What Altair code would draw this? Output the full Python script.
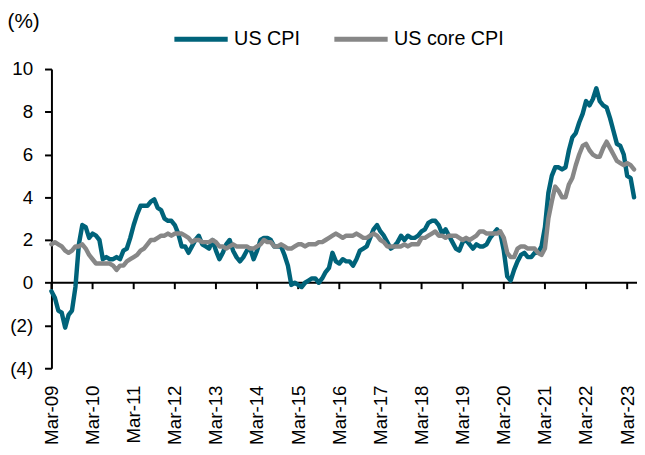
import altair as alt
import pandas as pd

# Monthly YoY (%) from Mar-09 to May-23
cpi = [
    -0.4, -0.7, -1.3, -1.4, -2.1, -1.5, -1.3, -0.2, 1.8, 2.7,            # 2009 Mar-Dec
    2.6, 2.1, 2.3, 2.2, 2.0, 1.1, 1.2, 1.1, 1.1, 1.2, 1.1, 1.5,          # 2010
    1.6, 2.1, 2.7, 3.2, 3.6, 3.6, 3.6, 3.8, 3.9, 3.5, 3.4, 3.0,          # 2011
    2.9, 2.9, 2.7, 2.3, 1.7, 1.7, 1.4, 1.7, 2.0, 2.2, 1.8, 1.7,          # 2012
    1.6, 2.0, 1.5, 1.1, 1.4, 1.8, 2.0, 1.5, 1.2, 1.0, 1.2, 1.5,          # 2013
    1.6, 1.1, 1.5, 2.0, 2.1, 2.1, 2.0, 1.7, 1.7, 1.7, 1.3, 0.8,          # 2014
    -0.1, 0.0, -0.1, -0.2, 0.0, 0.1, 0.2, 0.2, 0.0, 0.2, 0.5, 0.7,       # 2015
    1.4, 1.0, 0.9, 1.1, 1.0, 1.0, 0.8, 1.1, 1.5, 1.6, 1.7, 2.1,          # 2016
    2.5, 2.7, 2.4, 2.2, 1.9, 1.6, 1.7, 1.9, 2.2, 2.0, 2.2, 2.1,          # 2017
    2.1, 2.2, 2.4, 2.5, 2.8, 2.9, 2.9, 2.7, 2.3, 2.5, 2.2, 1.9,          # 2018
    1.6, 1.5, 1.9, 2.0, 1.8, 1.6, 1.8, 1.7, 1.7, 1.8, 2.1, 2.3,          # 2019
    2.5, 2.3, 1.5, 0.3, 0.1, 0.6, 1.0, 1.3, 1.4, 1.2, 1.2, 1.4,          # 2020
    1.4, 1.7, 2.6, 4.2, 5.0, 5.4, 5.4, 5.3, 5.4, 6.2, 6.8, 7.0,          # 2021
    7.5, 7.9, 8.5, 8.3, 8.6, 9.1, 8.5, 8.3, 8.2, 7.7, 7.1, 6.5,          # 2022
    6.4, 6.0, 5.0, 4.9, 4.0,                                             # 2023 Jan-May
]
core = [
    1.8, 1.9, 1.8, 1.7, 1.5, 1.4, 1.5, 1.7, 1.7, 1.8,                    # 2009 Mar-Dec
    1.6, 1.3, 1.1, 0.9, 0.9, 0.9, 0.9, 0.9, 0.8, 0.6, 0.8, 0.8,          # 2010
    1.0, 1.1, 1.2, 1.3, 1.5, 1.6, 1.8, 2.0, 2.0, 2.1, 2.2, 2.2,          # 2011
    2.3, 2.2, 2.3, 2.3, 2.3, 2.2, 2.1, 1.9, 2.0, 2.0, 1.9, 1.9,          # 2012
    1.9, 2.0, 1.9, 1.7, 1.7, 1.6, 1.7, 1.8, 1.7, 1.7, 1.7, 1.7,          # 2013
    1.6, 1.6, 1.7, 1.8, 2.0, 1.9, 1.9, 1.7, 1.7, 1.8, 1.7, 1.6,          # 2014
    1.6, 1.7, 1.8, 1.8, 1.7, 1.8, 1.8, 1.8, 1.9, 1.9, 2.0, 2.1,          # 2015
    2.2, 2.3, 2.2, 2.1, 2.2, 2.2, 2.2, 2.3, 2.2, 2.1, 2.1, 2.2,          # 2016
    2.3, 2.2, 2.0, 1.9, 1.7, 1.7, 1.7, 1.7, 1.7, 1.8, 1.7, 1.8,          # 2017
    1.8, 1.8, 2.1, 2.1, 2.2, 2.3, 2.4, 2.2, 2.2, 2.1, 2.2, 2.2,          # 2018
    2.2, 2.1, 2.0, 2.1, 2.0, 2.1, 2.2, 2.4, 2.4, 2.3, 2.3, 2.3,          # 2019
    2.3, 2.4, 2.1, 1.4, 1.2, 1.2, 1.6, 1.7, 1.7, 1.6, 1.6, 1.6,          # 2020
    1.4, 1.3, 1.6, 3.0, 3.8, 4.5, 4.3, 4.0, 4.0, 4.6, 4.9, 5.5,          # 2021
    6.0, 6.4, 6.5, 6.2, 6.0, 5.9, 5.9, 6.3, 6.6, 6.3, 6.0, 5.7,          # 2022
    5.6, 5.5, 5.6, 5.5, 5.3,                                             # 2023 Jan-May
]
series_names = ["US CPI", "US core CPI"]
series_colors = ["#00637A", "#878787"]
tick_months = list(range(0, 169, 12))   # every March, Mar-09 .. Mar-23
y_ticks = [-4, -2, 0, 2, 4, 6, 8, 10]

df = pd.DataFrame({"m": list(range(len(cpi))), "cpi": cpi, "core": core})
ticks_df = pd.DataFrame({"m": tick_months})

FONT = "Liberation Sans"

x_axis = alt.Axis(
    values=tick_months,
    labelExpr="'Mar-' + (floor(datum.value/12) + 9 < 10 ? '0' : '') + (floor(datum.value/12) + 9)",
    labelAngle=270, labelFontSize=19, labelColor="black", labelPadding=17,
    labelOverlap=False, labelFlush=False,
    domain=False, ticks=False, tickSize=0, grid=False, title=None,
)
y_axis = alt.Axis(
    values=y_ticks,
    labelExpr="datum.value < 0 ? '(' + abs(datum.value) + ')' : datum.value + '\u00a0'",
    labelFontSize=19, labelColor="black", labelPadding=12,
    domain=True, domainColor="black", domainWidth=2,
    ticks=True, tickColor="black", tickWidth=2, tickSize=7,
    grid=False,
    title="(%)", titleAngle=0, titleX=-45, titleY=-48, titleAlign="left",
    titleBaseline="middle", titleFontSize=21, titleFontWeight="normal", titleColor="black",
)
x_scale = alt.Scale(domain=[0, 170], nice=False, zero=False)
y_scale = alt.Scale(domain=[-4, 10], nice=False, zero=False)
color_scale = alt.Scale(domain=series_names, range=series_colors)
legend = alt.Legend(
    orient="none", legendX=122, legendY=-60, direction="horizontal", title=None,
    labelFontSize=20, labelColor="black", labelFont=FONT, symbolType="stroke",
    symbolSize=2916, symbolStrokeWidth=5, labelOffset=4, columnPadding=24, padding=0,
)

base = alt.Chart(df)
line_cpi = base.mark_line(strokeWidth=4.5, strokeJoin="round", strokeCap="round").transform_calculate(
    series="'US CPI'"
).encode(
    x=alt.X("m:Q", scale=x_scale, axis=x_axis),
    y=alt.Y("cpi:Q", scale=y_scale, axis=y_axis),
    color=alt.Color("series:N", scale=color_scale, legend=legend),
)
line_core = base.mark_line(strokeWidth=4.5, strokeJoin="round", strokeCap="round").transform_calculate(
    series="'US core CPI'"
).encode(
    x=alt.X("m:Q", scale=x_scale, axis=x_axis),
    y=alt.Y("core:Q", scale=y_scale, axis=y_axis),
    color=alt.Color("series:N", scale=color_scale, legend=legend),
)
zero_line = alt.Chart(pd.DataFrame({"z": [0]})).mark_rule(color="black", strokeWidth=2).encode(
    y=alt.Y("z:Q", scale=y_scale, axis=y_axis),
    x=alt.value(0), x2=alt.value(593),
)
zero_ticks = alt.Chart(ticks_df).mark_rule(color="black", strokeWidth=2).transform_calculate(
    y0="0", y1="-0.3"
).encode(
    x=alt.X("m:Q", scale=x_scale, axis=x_axis),
    y=alt.Y("y0:Q", scale=y_scale, axis=y_axis),
    y2="y1:Q",
)

chart = alt.layer(zero_line, zero_ticks, line_cpi, line_core).properties(
    width=590, height=303,
    autosize=alt.AutoSizeParams(type="none"),
    padding={"left": 44, "top": 59, "right": 3, "bottom": 80},
).configure(
    font=FONT, background="white"
).configure_view(stroke=None)

chart.save("out.html", embed_options={"renderer": "svg", "actions": False})
